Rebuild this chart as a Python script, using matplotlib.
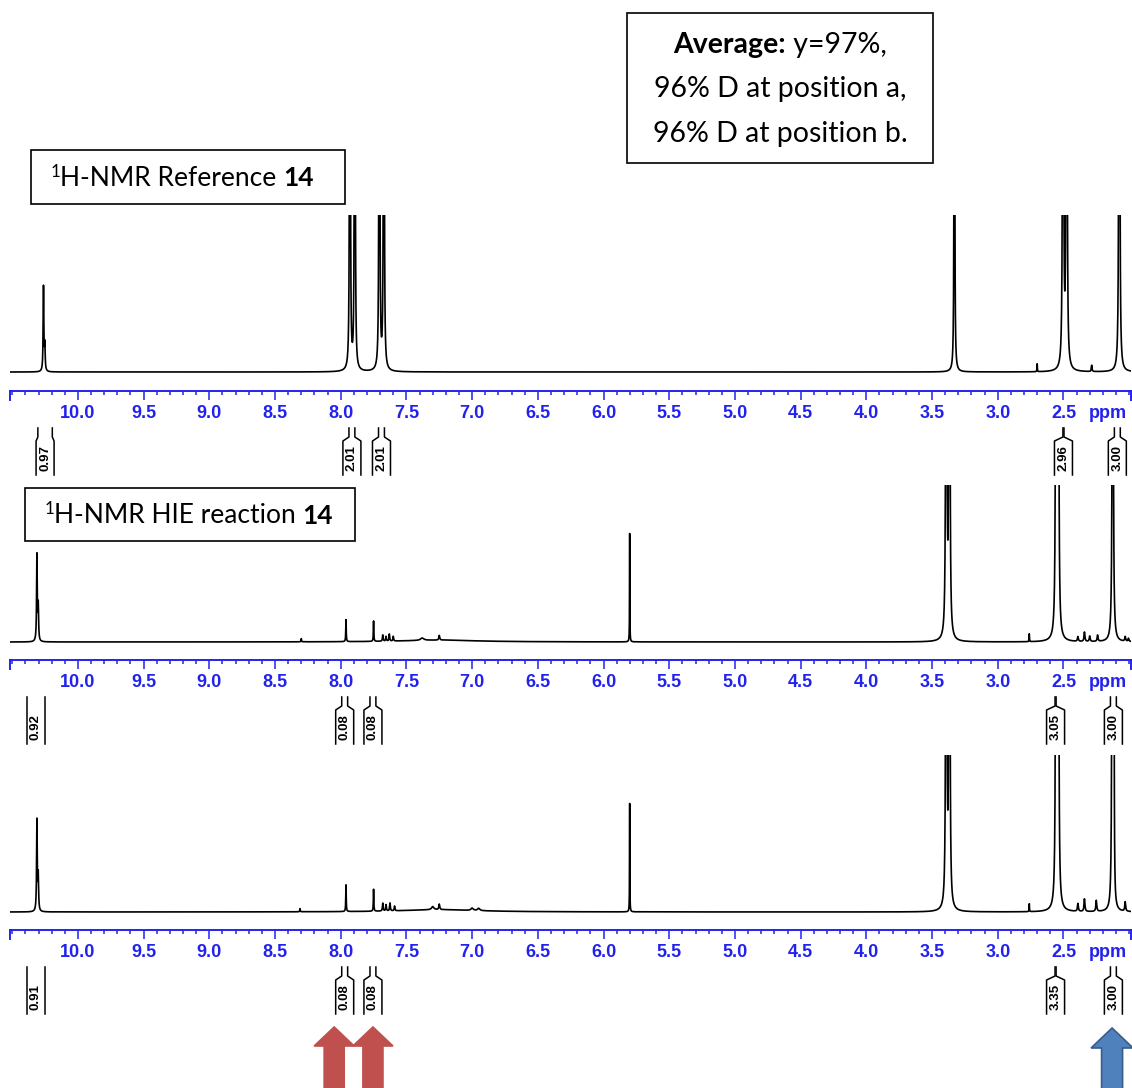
import numpy as np
import matplotlib.pyplot as plt
from matplotlib.patches import Polygon, Rectangle
from matplotlib.ticker import MultipleLocator, FixedLocator
from matplotlib.transforms import blended_transform_factory

# ppm window shown on all three spectra
ppm_left = 10.517
ppm_right = 1.986

# peaks: position (ppm), height (1.0 = top of panel), half width (ppm)
ref_pos = [10.262, 10.252, 7.930, 7.893, 7.706, 7.672, 3.330, 2.503, 2.476, 2.075, 2.700, 2.285]
ref_height = [0.54, 0.16, 10.0, 10.0, 10.0, 10.0, 10.0, 12.0, 12.0, 12.0, 0.05, 0.04]
ref_width = [0.003, 0.003, 0.0018, 0.0018, 0.0018, 0.0018, 0.0015, 0.002, 0.002, 0.002, 0.0015, 0.003]

hie1_pos = [10.312, 10.302, 8.300, 7.960, 7.750, 7.680, 7.655, 7.630, 7.600, 7.380, 7.250, 7.250,
            5.801, 3.392, 3.368, 2.556, 2.540, 2.125, 2.760, 2.390, 2.340, 2.300, 2.240, 2.030, 2.005]
hie1_height = [0.55, 0.22, 0.02, 0.14, 0.13, 0.04, 0.03, 0.045, 0.03, 0.015, 0.03, 0.012,
               0.69, 12.0, 12.0, 12.0, 12.0, 12.0, 0.05, 0.03, 0.06, 0.035, 0.04, 0.03, 0.02]
hie1_width = [0.003, 0.003, 0.002, 0.002, 0.002, 0.003, 0.003, 0.003, 0.003, 0.015, 0.004, 0.35,
              0.0012, 0.002, 0.002, 0.002, 0.002, 0.002, 0.0015, 0.004, 0.004, 0.004, 0.004, 0.004, 0.004]

hie2_pos = [10.312, 10.302, 8.310, 7.960, 7.750, 7.680, 7.655, 7.625, 7.590, 7.300, 7.250, 7.000, 6.950, 7.250,
            5.801, 3.392, 3.368, 2.556, 2.540, 2.128, 2.116, 2.760, 2.390, 2.340, 2.250, 2.030]
hie2_height = [0.58, 0.22, 0.02, 0.17, 0.14, 0.05, 0.04, 0.05, 0.03, 0.02, 0.035, 0.015, 0.015, 0.015,
               0.69, 12.0, 12.0, 12.0, 12.0, 10.0, 2.5, 0.05, 0.05, 0.08, 0.07, 0.06]
hie2_width = [0.003, 0.003, 0.002, 0.002, 0.002, 0.003, 0.003, 0.003, 0.003, 0.01, 0.004, 0.01, 0.01, 0.35,
              0.0012, 0.002, 0.002, 0.002, 0.002, 0.002, 0.002, 0.0015, 0.004, 0.004, 0.004, 0.004]

# integrals: centre (ppm), integration width (ppm), value
ref_int_pos = [10.25, 7.915, 7.69, 2.50, 2.09]
ref_int_width = [0.11, 0.045, 0.045, 0.008, 0.045]
ref_int_vals = ['0.97', '2.01', '2.01', '2.96', '3.00']

hie1_int_pos = [10.32, 7.97, 7.755, 2.56, 2.12]
hie1_int_width = [0.14, 0.045, 0.045, 0.008, 0.045]
hie1_int_vals = ['0.92', '0.08', '0.08', '3.05', '3.00']

hie2_int_pos = [10.32, 7.97, 7.755, 2.56, 2.12]
hie2_int_width = [0.14, 0.045, 0.045, 0.008, 0.045]
hie2_int_vals = ['0.91', '0.08', '0.08', '3.35', '3.00']

# arrows under the last spectrum
red_arrow_ppm = [8.05, 7.755]
blue_arrow_ppm = [2.13]

W, H = 1132, 1088
AX_BLUE = '#2222ee'
TXT_FONT = 'Lato'
fig = plt.figure(figsize=(W / 100, H / 100), dpi=100)


def px_axes(x0, y0, x1, y1):
    return fig.add_axes([x0 / W, 1 - y1 / H, (x1 - x0) / W, (y1 - y0) / H])


ppm = np.linspace(ppm_right, ppm_left, 80000)


def spectrum(pos, height, width):
    y = np.zeros_like(ppm)
    for p, h, w in zip(pos, height, width):
        y += h * w ** 2 / ((ppm - p) ** 2 + w ** 2)
    return y


unit = 157  # px per height unit
panels = [
    (391, 372, ref_pos, ref_height, ref_width, ref_int_pos, ref_int_width, ref_int_vals),
    (660, 642, hie1_pos, hie1_height, hie1_width, hie1_int_pos, hie1_int_width, hie1_int_vals),
    (930, 912, hie2_pos, hie2_height, hie2_width, hie2_int_pos, hie2_int_width, hie2_int_vals),
]

spec_axes = []
for axis_y, base_y, pos, hgt, wid, ipos, iwid, ivals in panels:
    ax = px_axes(10, base_y - unit, 1131, axis_y)
    ax.plot(ppm, spectrum(pos, hgt, wid), color='black', lw=1.2)
    ax.set_xlim(ppm_left, ppm_right)
    ax.set_ylim(-(axis_y - base_y) / unit, 1)
    for s in ['top', 'left', 'right']:
        ax.spines[s].set_visible(False)
    ax.spines['bottom'].set_color(AX_BLUE)
    ax.spines['bottom'].set_linewidth(1.4)
    ax.set_yticks([])
    ax.xaxis.set_major_locator(FixedLocator(np.arange(2.5, 10.01, 0.5)))
    ax.xaxis.set_minor_locator(MultipleLocator(0.1))
    ax.xaxis.set_major_formatter(lambda v, p: f'{v:.1f}')
    ax.tick_params(axis='x', which='major', length=6.5, width=1.1, color=AX_BLUE,
                   labelcolor=AX_BLUE, labelsize=13, pad=3.5)
    ax.tick_params(axis='x', which='minor', length=3.2, width=1.1, color=AX_BLUE)
    for lab in ax.get_xticklabels():
        lab.set_fontweight('bold')
        lab.set_family('Liberation Sans')
    # end ticks of the scale
    frac = 9 / (axis_y - base_y + unit)
    for xe in [ppm_left, ppm_right]:
        ax.plot([xe, xe], [0, -frac], transform=ax.get_xaxis_transform(), color=AX_BLUE,
                lw=1.4, clip_on=False)
    ax.text(2.165, -0.13, 'ppm', transform=ax.get_xaxis_transform(), color=AX_BLUE,
            fontsize=13, fontweight='bold', family='Liberation Sans', ha='center', va='center')

    # integral labels
    iax = px_axes(10, axis_y + 30, 1131, axis_y + 90)
    iax.set_xlim(ppm_left, ppm_right)
    iax.set_ylim(90, 30)
    iax.axis('off')
    bw = 9 / 131.4
    for p, w, v in zip(ipos, iwid, ivals):
        hw = w / 2
        for sgn in [-1, 1]:
            if hw >= bw:
                xs = [p + sgn * hw, p + sgn * hw]
                ys = [37, 84]
            else:
                xs = [p + sgn * hw, p + sgn * hw, p + sgn * bw, p + sgn * bw]
                ys = [37, 46, 50, 84]
            iax.plot(xs, ys, color='black', lw=1.1, clip_on=False)
        iax.text(p, 67, v, rotation=90, ha='center', va='center', fontsize=9.5,
                 fontweight='bold', family='Liberation Sans')
    spec_axes.append(ax)

# overlay in pixel coordinates for text boxes and arrows
ov = fig.add_axes([0, 0, 1, 1])
ov.set_xlim(0, W)
ov.set_ylim(H, 0)
ov.axis('off')
ov.patch.set_alpha(0)

FS = 19
FS_AVG = 20.5


def boxed_label(x0, y0, x1, y1, normal, bold, tx):
    ov.add_patch(Rectangle((x0, y0), x1 - x0, y1 - y0, facecolor='white', edgecolor='black', lw=1.2))
    t = ov.text(tx, (y0 + y1) / 2 + 1, normal, fontsize=FS, family=TXT_FONT, ha='left', va='center')
    ov.annotate(bold, xy=(1, 0), xycoords=t, ha='left', va='bottom', fontsize=FS,
                family=TXT_FONT, fontweight='bold')
    ov.annotate('1', xy=(0, 1.06), xycoords=t, ha='right', va='top', fontsize=FS * 0.64,
                family=TXT_FONT)


boxed_label(31, 150, 345, 204, 'H-NMR Reference ', '14', 60)
boxed_label(25, 488, 355, 541, 'H-NMR HIE reaction ', '14', 54)

ov.add_patch(Rectangle((627, 13), 306, 150, facecolor='white', edgecolor='black', lw=1.2))
t1 = ov.text(671, 45, 'Average:', fontsize=FS_AVG, family=TXT_FONT, fontweight='bold',
             ha='left', va='center')
t2 = ov.annotate(' y=97%,', xy=(1, 0), xycoords=t1, ha='left', va='bottom', fontsize=FS_AVG,
                 family=TXT_FONT)
ov.text(780, 89, '96% D at position a,', fontsize=FS_AVG, family=TXT_FONT, ha='center', va='center')
ov.text(780, 134, '96% D at position b.', fontsize=FS_AVG, family=TXT_FONT, ha='center', va='center')

# centre the two-part first line on the box
r = fig.canvas.get_renderer()
w1 = t1.get_window_extent(r).width
w2 = t2.get_window_extent(r).width
t1.set_x(780 - (w1 + w2) / 2)

# arrows: x in ppm of the last spectrum, y in pixels
blend = blended_transform_factory(spec_axes[2].transData, ov.transData)
k = 1 / 131.4


def up_arrow(xc, tip, head_base, head_hw, shaft_hw, face, edge):
    pts = [(xc, tip), (xc + head_hw * k, head_base), (xc + shaft_hw * k, head_base),
           (xc + shaft_hw * k, H + 5), (xc - shaft_hw * k, H + 5), (xc - shaft_hw * k, head_base),
           (xc - head_hw * k, head_base)]
    ov.add_patch(Polygon(pts, closed=True, facecolor=face, edgecolor=edge, lw=1.2,
                         transform=blend, clip_on=False))


for xc in red_arrow_ppm:
    up_arrow(xc, 1027, 1046, 20, 10, '#C0504D', '#C0504D')
for xc in blue_arrow_ppm:
    up_arrow(xc, 1028, 1048, 21, 10.5, '#4F81BD', '#385D8A')

fig.savefig('out.png', dpi=100)
